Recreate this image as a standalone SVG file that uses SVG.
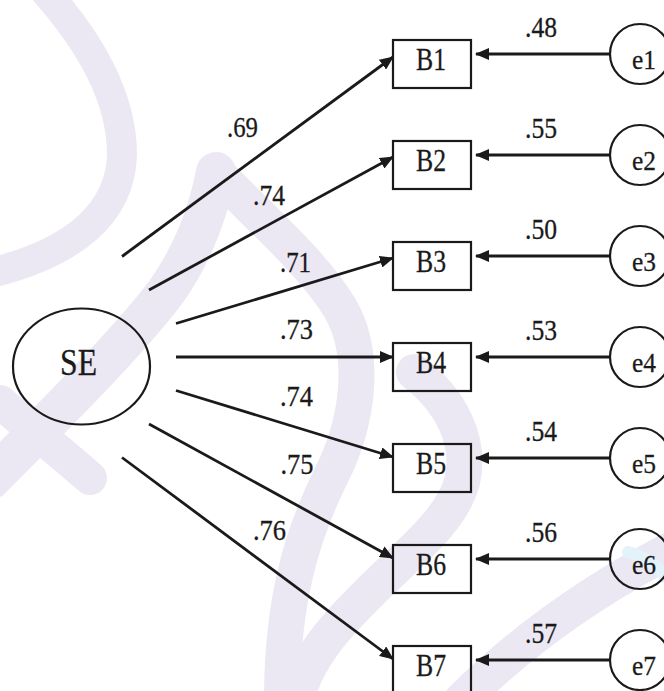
<svg xmlns="http://www.w3.org/2000/svg" width="664" height="691" viewBox="0 0 664 691">
  <defs>
    <style>
      .wm { fill: none; stroke: #ebe8f3; stroke-linecap: round; stroke-linejoin: round; }
      .node { fill: none; stroke: #1a1a1a; stroke-width: 2.2; }
      .edge { fill: none; stroke: #1a1a1a; stroke-width: 2.8; marker-end: url(#head); }
      .lbl { font-family: "Liberation Serif", "DejaVu Serif", serif; fill: #1a1a1a; stroke: #1a1a1a; stroke-width: 0.3; }
      .big { font-size: 37px; }
      .name { font-size: 31px; }
      .num { font-size: 29px; }
      .err { font-size: 28px; }
    </style>
    <marker id="head" markerUnits="userSpaceOnUse" markerWidth="14" markerHeight="12" viewBox="0 0 14 12" refX="13" refY="6" orient="auto">
      <path d="M0,0 L14,6 L0,12 z" fill="#1a1a1a"/>
    </marker>
  </defs>

  <rect width="664" height="691" fill="#ffffff"/>

  <!-- background watermark strokes -->
  <g id="watermark">
    <path class="wm" stroke-width="30" d="M44,-10 C88,40 122,95 122,155 C120,215 72,252 -5,272"/>
    <path class="wm" stroke-width="40" d="M-10,480 C60,410 128,342 166,292 C192,255 208,215 216,172"/>
    <path class="wm" stroke-width="34" d="M0,402 C30,427 60,452 90,478"/>
    <path class="wm" stroke-width="36" d="M220,176 C262,220 312,262 340,308 C366,352 360,420 330,478 C302,535 282,600 282,700"/>
    <path class="wm" stroke-width="36" d="M414,372 C450,400 472,440 462,482 C450,525 400,560 362,600 C332,630 306,660 296,700"/>
    <path class="wm" stroke-width="36" d="M462,700 C522,640 592,590 680,545"/>
    <path fill="none" stroke="#e2f3fa" stroke-width="12" stroke-linecap="round" d="M628,552 C645,556 658,566 664,576"/>
  </g>

  <!-- connectors -->
  <g id="connectors">
    <line class="edge" x1="122" y1="256.5" x2="393" y2="57"/>
    <line class="edge" x1="149" y1="290" x2="393" y2="157"/>
    <line class="edge" x1="176" y1="323.5" x2="393" y2="258"/>
    <line class="edge" x1="176" y1="357" x2="393" y2="357"/>
    <line class="edge" x1="176" y1="390.5" x2="393" y2="457"/>
    <line class="edge" x1="149" y1="424" x2="393" y2="558"/>
    <line class="edge" x1="122" y1="457.5" x2="393" y2="659"/>

    <line class="edge" x1="610" y1="54" x2="476" y2="54"/>
    <line class="edge" x1="610" y1="155" x2="476" y2="155"/>
    <line class="edge" x1="610" y1="256" x2="476" y2="256"/>
    <line class="edge" x1="610" y1="357" x2="476" y2="357"/>
    <line class="edge" x1="610" y1="458" x2="476" y2="458"/>
    <line class="edge" x1="610" y1="559" x2="476" y2="559"/>
    <line class="edge" x1="610" y1="660" x2="476" y2="660"/>

    <!-- loadings -->
    <text class="lbl num" x="227" y="137" textLength="31" lengthAdjust="spacingAndGlyphs">.69</text>
    <text class="lbl num" x="253" y="204.5" textLength="32" lengthAdjust="spacingAndGlyphs">.74</text>
    <text class="lbl num" x="280" y="272" textLength="31" lengthAdjust="spacingAndGlyphs">.71</text>
    <text class="lbl num" x="280" y="339" textLength="33" lengthAdjust="spacingAndGlyphs">.73</text>
    <text class="lbl num" x="280" y="405.5" textLength="33" lengthAdjust="spacingAndGlyphs">.74</text>
    <text class="lbl num" x="280.5" y="473.5" textLength="33" lengthAdjust="spacingAndGlyphs">.75</text>
    <text class="lbl num" x="253" y="539.5" textLength="33" lengthAdjust="spacingAndGlyphs">.76</text>

    <!-- error weights -->
    <text class="lbl num" x="525" y="37" textLength="32" lengthAdjust="spacingAndGlyphs">.48</text>
    <text class="lbl num" x="525" y="138" textLength="32" lengthAdjust="spacingAndGlyphs">.55</text>
    <text class="lbl num" x="525" y="239" textLength="32" lengthAdjust="spacingAndGlyphs">.50</text>
    <text class="lbl num" x="525" y="340" textLength="32" lengthAdjust="spacingAndGlyphs">.53</text>
    <text class="lbl num" x="525" y="441" textLength="32" lengthAdjust="spacingAndGlyphs">.54</text>
    <text class="lbl num" x="525" y="542" textLength="32" lengthAdjust="spacingAndGlyphs">.56</text>
    <text class="lbl num" x="525" y="643" textLength="32" lengthAdjust="spacingAndGlyphs">.57</text>
  </g>

  <!-- latent factor -->
  <g id="SE">
    <ellipse class="node" cx="81.5" cy="366.5" rx="68.5" ry="58"/>
    <text class="lbl big" x="60" y="375" textLength="37" lengthAdjust="spacingAndGlyphs">SE</text>
  </g>

  <!-- observed items -->
  <g id="B1"><rect class="node" x="393" y="40" width="78" height="48"/><text class="lbl name" x="416" y="70" textLength="30" lengthAdjust="spacingAndGlyphs">B1</text></g>
  <g id="B2"><rect class="node" x="393" y="141" width="78" height="48"/><text class="lbl name" x="416" y="171" textLength="30" lengthAdjust="spacingAndGlyphs">B2</text></g>
  <g id="B3"><rect class="node" x="393" y="242" width="78" height="48"/><text class="lbl name" x="416" y="272" textLength="30" lengthAdjust="spacingAndGlyphs">B3</text></g>
  <g id="B4"><rect class="node" x="393" y="343" width="78" height="48"/><text class="lbl name" x="416" y="373" textLength="30" lengthAdjust="spacingAndGlyphs">B4</text></g>
  <g id="B5"><rect class="node" x="393" y="444" width="78" height="48"/><text class="lbl name" x="416" y="474" textLength="30" lengthAdjust="spacingAndGlyphs">B5</text></g>
  <g id="B6"><rect class="node" x="393" y="545" width="78" height="48"/><text class="lbl name" x="416" y="575" textLength="30" lengthAdjust="spacingAndGlyphs">B6</text></g>
  <g id="B7"><rect class="node" x="393" y="646" width="78" height="48"/><text class="lbl name" x="416" y="676" textLength="30" lengthAdjust="spacingAndGlyphs">B7</text></g>

  <!-- error terms -->
  <g id="e1"><circle class="node" cx="640" cy="54" r="30"/><text class="lbl err" x="632" y="69" textLength="24" lengthAdjust="spacingAndGlyphs">e1</text></g>
  <g id="e2"><circle class="node" cx="640" cy="155" r="30"/><text class="lbl err" x="632" y="170" textLength="24" lengthAdjust="spacingAndGlyphs">e2</text></g>
  <g id="e3"><circle class="node" cx="640" cy="256" r="30"/><text class="lbl err" x="632" y="271" textLength="24" lengthAdjust="spacingAndGlyphs">e3</text></g>
  <g id="e4"><circle class="node" cx="640" cy="357" r="30"/><text class="lbl err" x="632" y="372" textLength="24" lengthAdjust="spacingAndGlyphs">e4</text></g>
  <g id="e5"><circle class="node" cx="640" cy="458" r="30"/><text class="lbl err" x="632" y="473" textLength="24" lengthAdjust="spacingAndGlyphs">e5</text></g>
  <g id="e6"><circle class="node" cx="640" cy="559" r="30"/><text class="lbl err" x="632" y="574" textLength="24" lengthAdjust="spacingAndGlyphs">e6</text></g>
  <g id="e7"><circle class="node" cx="640" cy="660" r="30"/><text class="lbl err" x="632" y="675" textLength="24" lengthAdjust="spacingAndGlyphs">e7</text></g>
</svg>
